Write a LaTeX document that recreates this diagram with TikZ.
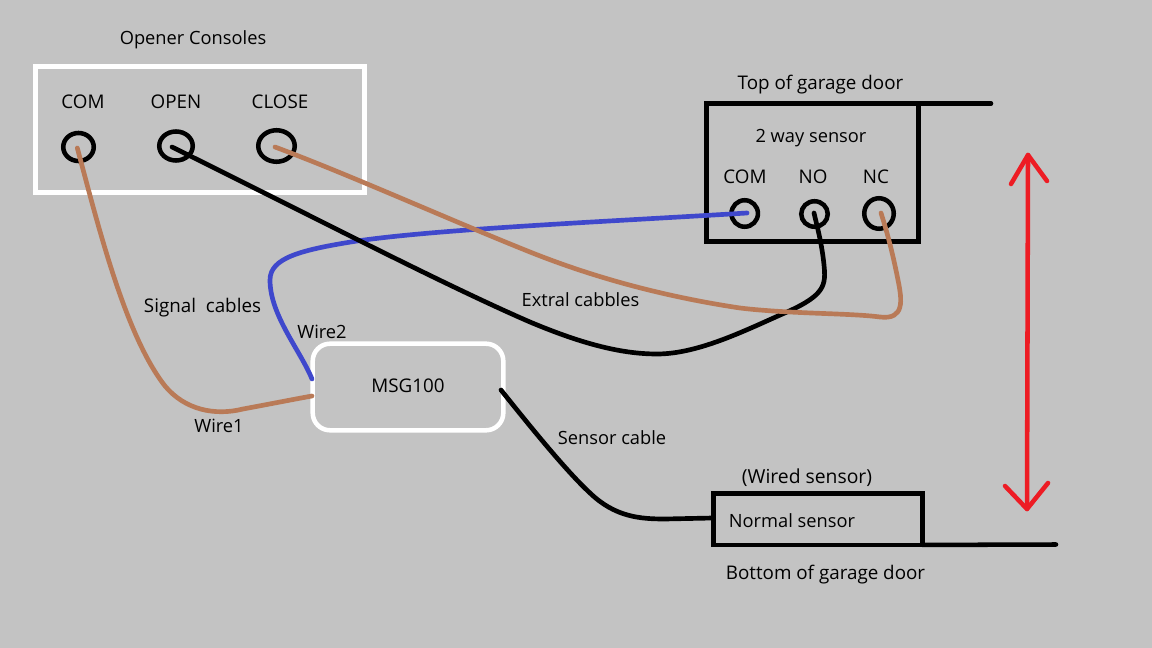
\documentclass[tikz,border=0pt]{standalone}
\usepackage{fontspec}
\setmainfont{Open Sans}
\usetikzlibrary{shapes.geometric}
\definecolor{bg}{RGB}{195,195,195}
\definecolor{brownw}{RGB}{185,122,87}
\definecolor{bluew}{RGB}{63,72,204}
\definecolor{redw}{RGB}{237,28,36}
\tikzset{
 sz/.style 2 args={minimum width=#1*0.75pt,minimum height=#2*0.75pt},
 lbl/.style={font=\fontsize{13.7}{16}\selectfont,text=black,inner sep=0pt},
 lblb/.style={font=\fontsize{14.1}{16}\selectfont,text=black,inner sep=0pt},
 term/.style={ellipse,draw=black,line width=3.4pt,inner sep=0pt,outer sep=0pt},
 bx/.style={draw=black,line width=3.4pt,fill=none,outer sep=0pt},
 wbx/.style={draw=white,line width=3.4pt,fill=none,outer sep=0pt},
 wire/.style={line width=3.5pt,line cap=round,line join=round},
 arrowred/.style={line width=3.4pt,line cap=round,line join=round,redw},
}
\begin{document}
\begin{tikzpicture}[x=0.75pt,y=-0.75pt]
\path[use as bounding box,fill=bg] (0,0) rectangle (1152,648);
% consoles box
\node[wbx,sz={329.4}{125.8}] (console) at (200,129.4) {};
\node[lbl] (t0) at (193,40) {Opener Consoles};
\node[lblb] (t1) at (83,102) {COM};
\node[lblb] (t2) at (176,102) {OPEN};
\node[lblb] (t3) at (280,102) {CLOSE};
\node[term,sz={30.5}{28}] (c1) at (78.5,147) {};
\node[term,sz={33.5}{29}] (c2) at (176,146) {};
\node[term,sz={36.5}{31.5}] (c3) at (276.5,146) {};
\coordinate (c1p) at (77.3,148);
\coordinate (c2p) at (172,147);
\coordinate (c3p) at (275,147);
% 2 way sensor
\node[bx,sz={212}{137.8}] (top) at (812.5,172.4) {};
\coordinate (topend) at (991,103.5);
\draw[line width=3.4pt,line cap=round] (top.north east) -- (topend);
\node[lblb] (t4) at (820.5,85) {Top of garage door};
\node[lbl] (t5) at (811,138) {2 way sensor};
\node[lblb] (t6) at (745,177) {COM};
\node[lblb] (t7) at (813,177) {NO};
\node[lblb] (t8) at (876,177) {NC};
\node[term,sz={26.5}{26.5}] (s1) at (744.7,213.5) {};
\node[term,sz={26.5}{25.5}] (s2) at (814.5,214) {};
\node[term,sz={29.5}{30.5}] (s3) at (879,213.5) {};
\coordinate (s1p) at (747,213);
\coordinate (s2p) at (814,213);
\coordinate (s3p) at (881,213);
% MSG100
\node[wbx,rounded corners=13pt,sz={190.6}{86.6}] (msg) at (408,387) {};
\node[lblb] (t12) at (408,386) {MSG100};
% normal sensor
\node[bx,sz={209.2}{51.3}] (norm) at (818,519.3) {};
\coordinate (normend) at (1056,544.5);
\draw[line width=3.4pt,line cap=round] (norm.south east) -- (normend);
\node[font=\fontsize{14.5}{16}\selectfont,inner sep=0pt] (t9) at (807,478) {(Wired sensor)};
\node[lbl] (t10) at (792,521) {Normal sensor};
\node[lblb] (t11) at (825.5,575) {Bottom of garage door};
% labels
\node[lblb] (t13) at (202.5,308) {Signal\ \ cables};
\node[lbl] (t14) at (322,332) {Wire2};
\node[lbl] (t15) at (219,426) {Wire1};
\node[lbl] (t16) at (580.5,300) {Extral cabbles};
\node[lbl] (t17) at (612,438) {Sensor cable};
% wires
\coordinate (m1) at (312,396);
\coordinate (m2) at (312,379);
\coordinate (m3) at (501,390);
\coordinate (n1) at (713,518);
\draw[wire,brownw] (c1p) .. controls (98,225) and (125,335) .. (165,386) .. controls (185,410) and (215,416) .. (243,409) .. controls (270,404) and (290,400) .. (m1);
\draw[wire,bluew] (m2) .. controls (300,350) and (270,315) .. (270,280) .. controls (270,258) and (300,250) .. (357,241) .. controls (440,229) and (600,222) .. (s1p);
\draw[wire,black] (c2p) .. controls (300,210) and (440,283) .. (530,322) .. controls (580,343) and (620,354) .. (657,354) .. controls (700,354) and (750,328) .. (787,312) .. controls (825,295) and (826,285) .. (824,265) .. controls (822,245) and (818,230) .. (s2p);
\draw[wire,brownw] (c3p) .. controls (350,175) and (450,220) .. (530,252) .. controls (590,276) and (660,296) .. (740,308) .. controls (790,314) and (850,313) .. (880,317) .. controls (905,320) and (902,300) .. (898,280) .. controls (893,255) and (888,235) .. (s3p);
\draw[wire,black] (m3) .. controls (525,420) and (565,470) .. (590,493) .. controls (615,517) and (640,519) .. (665,519) -- (n1);
% red arrow
\coordinate (a1) at (1028,155);
\coordinate (a2) at (1027,509);
\draw[arrowred] (a1) -- (a2);
\draw[arrowred] (1011,184) -- (a1) -- (1047,181);
\draw[arrowred] (1005,486) -- (a2) -- (1048,483);
\end{tikzpicture}
\end{document}
